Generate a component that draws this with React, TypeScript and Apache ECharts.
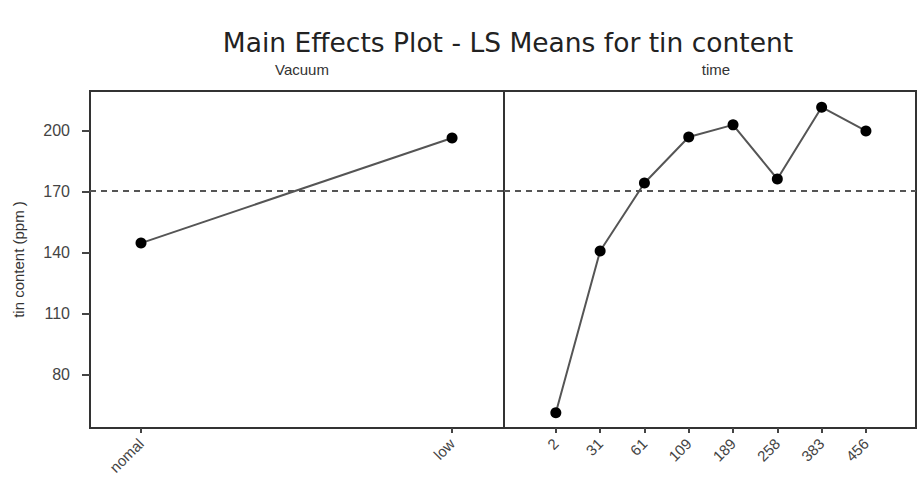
import React, { useEffect, useRef } from "react";
import * as echarts from "echarts";

// Factor levels and their least-squares means of tin content (ppm)
const vacuumLevels = ["nomal", "low"];
const vacuumMeans = [144.7, 196.5];

const timeLevels = ["2", "31", "61", "109", "189", "258", "383", "456"];
const timeMeans = [61, 140.8, 174.3, 197, 203, 176.3, 211.7, 200];

const grandMean = 170.3;
const yTicks = [80, 110, 140, 170, 200];

const TITLE_FONT = "DejaVu Sans, Liberation Sans, sans-serif";
const FONT = "Liberation Sans Narrow, Liberation Sans, Arial, sans-serif";
const INK = "#333";

export default function App() {
  const ref = useRef<HTMLDivElement>(null);

  useEffect(() => {
    if (!ref.current) return;
    const chart = echarts.init(ref.current, null, { renderer: "svg" });

    const xAxisFor = (gridIndex: number, levels: string[], min: number, max: number) => ({
      type: "value" as const,
      gridIndex,
      min,
      max,
      splitLine: { show: false },
      axisLine: { show: true, onZero: false, lineStyle: { color: INK, width: 2 } },
      axisTick: {
        show: true,
        length: 5,
        lineStyle: { color: "#444", width: 2 },
        customValues: levels.map((_, i) => i),
      },
      axisLabel: {
        show: true,
        rotate: 45,
        margin: 13,
        fontFamily: FONT,
        fontSize: 15,
        color: "#444",
        customValues: levels.map((_, i) => i),
        formatter: (v: number) => levels[Math.round(v)] ?? "",
      },
    });

    const meanLine = {
      silent: true,
      symbol: "none",
      label: { show: false },
      lineStyle: { type: [6, 5], color: "#555", width: 2 },
      data: [{ yAxis: grandMean }],
    };

    const lineSeries = (idx: number, values: number[]) => ({
      type: "line" as const,
      xAxisIndex: idx,
      yAxisIndex: idx,
      data: values.map((v, i) => [i, v]),
      symbol: "circle",
      symbolSize: 11,
      itemStyle: { color: "#000" },
      lineStyle: { color: "#555", width: 2 },
      markLine: meanLine,
    });

    const panelTitle = (text: string, x: number) => ({
      text,
      left: x,
      top: 57,
      textAlign: "center",
      textStyle: { fontFamily: FONT, fontSize: 15, lineHeight: 15, fontWeight: "normal", color: "#333" },
    });

    const panelGrid = (left: number, width: number) => ({
      left,
      top: 91,
      width,
      height: 337,
      show: true,
      borderColor: INK,
      borderWidth: 2,
      backgroundColor: "transparent",
      containLabel: false,
      outerBoundsMode: "none",
    });

    chart.setOption({
      animation: false,
      backgroundColor: "#fff",
      title: [
        {
          text: "Main Effects Plot - LS Means for tin content",
          left: 503,
          top: 24,
          textAlign: "center",
          textStyle: { fontFamily: TITLE_FONT, fontSize: 26.5, lineHeight: 27, fontWeight: "normal", color: "#222" },
        },
        panelTitle("Vacuum", 297),
        panelTitle("time", 711),
      ],
      grid: [panelGrid(90, 414), panelGrid(504, 412)],
      xAxis: [
        xAxisFor(0, vacuumLevels, -0.164, 1.167),
        xAxisFor(1, timeLevels, -1.17, 8.13),
      ],
      yAxis: [
        {
          type: "value",
          gridIndex: 0,
          min: 53.5,
          max: 219.7,
          name: "tin content (ppm )",
          nameLocation: "middle",
          nameGap: 64,
          nameTextStyle: { fontFamily: FONT, fontSize: 15, color: "#333" },
          splitLine: { show: false },
          axisLine: { show: true, onZero: false, lineStyle: { color: INK, width: 2 } },
          axisTick: { show: true, length: 8, lineStyle: { color: "#444", width: 2 }, customValues: yTicks },
          axisLabel: { fontFamily: FONT, fontSize: 16, color: "#444", margin: 20, customValues: yTicks },
        },
        {
          type: "value",
          gridIndex: 1,
          min: 53.5,
          max: 219.7,
          splitLine: { show: false },
          axisLine: { show: false, onZero: false },
          axisTick: { show: false },
          axisLabel: { show: false },
        },
      ],
      series: [
        lineSeries(0, vacuumMeans),
        lineSeries(1, timeMeans),
      ],
    });

    return () => chart.dispose();
  }, []);

  return (
    <div
      ref={ref}
      style={{ position: "fixed", left: 0, top: 0, width: 917, height: 478, background: "#fff" }}
    />
  );
}
